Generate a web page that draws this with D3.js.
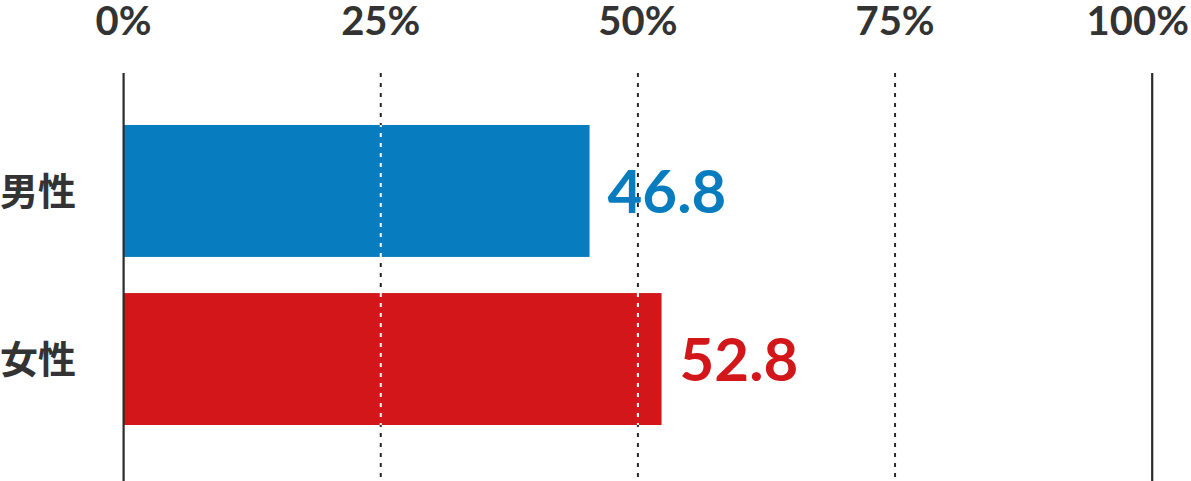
<!DOCTYPE html>
<html>
<head>
<meta charset="utf-8">
<script src="https://cdn.jsdelivr.net/npm/d3@7"></script>
<style>
  html, body { margin: 0; padding: 0; background: #fff; }
  svg { display: block; }
</style>
</head>
<body>
<div id="chart"></div>
<script>
// data
const categories = ["男性", "女性"];
const barLengths = [45.3, 52.3];       // bar ends as drawn
const valueLabels = ["46.8", "52.8"];  // printed values
const colors = ["#077dbf", "#d31619"];
const ticks = [0, 25, 50, 75, 100];

const width = 1191, height = 481;

const svg = d3.select("#chart").append("svg")
    .attr("width", width)
    .attr("height", height)
    .attr("viewBox", [0, 0, width, height]);

const x = d3.scaleLinear().domain([0, 100]).range([123.6, 1152.2]);
const y = d3.scaleBand().domain(categories).range([107, 443])
    .paddingInner(0.215).paddingOuter(0.107);

const gridTop = 73;
const inner = ticks.filter(t => t > 0 && t < 100);

// dashed grid lines (under the bars)
svg.append("g")
  .selectAll("line")
  .data(inner)
  .join("line")
    .attr("x1", d => x(d)).attr("x2", d => x(d))
    .attr("y1", gridTop).attr("y2", height)
    .attr("stroke", "#2b2b2b")
    .attr("stroke-width", 2)
    .attr("stroke-dasharray", "4,6");

const rows = categories.map((c, i) => ({cat: c, v: barLengths[i], label: valueLabels[i], color: colors[i]}));

svg.append("defs").append("clipPath").attr("id", "barclip")
  .selectAll("rect")
  .data(rows)
  .join("rect")
    .attr("x", x(0))
    .attr("y", d => y(d.cat))
    .attr("width", d => x(d.v) - x(0))
    .attr("height", y.bandwidth());

// bars
svg.append("g")
  .selectAll("rect")
  .data(rows)
  .join("rect")
    .attr("x", x(0))
    .attr("y", d => y(d.cat))
    .attr("width", d => x(d.v) - x(0))
    .attr("height", y.bandwidth())
    .attr("fill", d => d.color);

// white dashes where the grid crosses a bar
svg.append("g")
    .attr("clip-path", "url(#barclip)")
  .selectAll("line")
  .data(inner)
  .join("line")
    .attr("x1", d => x(d)).attr("x2", d => x(d))
    .attr("y1", gridTop).attr("y2", height)
    .attr("stroke", "#fff")
    .attr("stroke-width", 2)
    .attr("stroke-dasharray", "4,6");

// solid 0% and 100% lines
svg.append("g")
  .selectAll("line")
  .data([0, 100])
  .join("line")
    .attr("x1", d => x(d)).attr("x2", d => x(d))
    .attr("y1", gridTop).attr("y2", height)
    .attr("stroke", "#2b2b2b")
    .attr("stroke-width", 2.2);

// tick labels on top (last one kept inside the frame)
svg.append("g")
  .selectAll("text")
  .data(ticks)
  .join("text")
    .attr("x", d => d === 100 ? width - 2 : x(d))
    .attr("y", 35)
    .attr("text-anchor", d => d === 100 ? "end" : "middle")
    .attr("font-family", "Lato, sans-serif")
    .attr("font-weight", 700)
    .attr("font-size", 40)
    .attr("fill", "#333")
    .text(d => d + "%");

// category labels
svg.append("g")
  .selectAll("text")
  .data(rows)
  .join("text")
    .attr("x", 0)
    .attr("y", d => y(d.cat) + y.bandwidth() / 2)
    .attr("dy", "0.36em")
    .attr("font-family", "'Noto Sans CJK JP', sans-serif")
    .attr("font-weight", 700)
    .attr("font-size", 38)
    .attr("fill", "#333")
    .text(d => d.cat);

// value labels
svg.append("g")
  .selectAll("text")
  .data(rows)
  .join("text")
    .attr("x", d => x(d.v) + 18)
    .attr("y", d => y(d.cat) + y.bandwidth() / 2 + 22)
    .attr("font-family", "Lato, sans-serif")
    .attr("font-weight", 700)
    .attr("font-size", 60)
    .attr("fill", d => d.color)
    .text(d => d.label);
</script>
</body>
</html>
